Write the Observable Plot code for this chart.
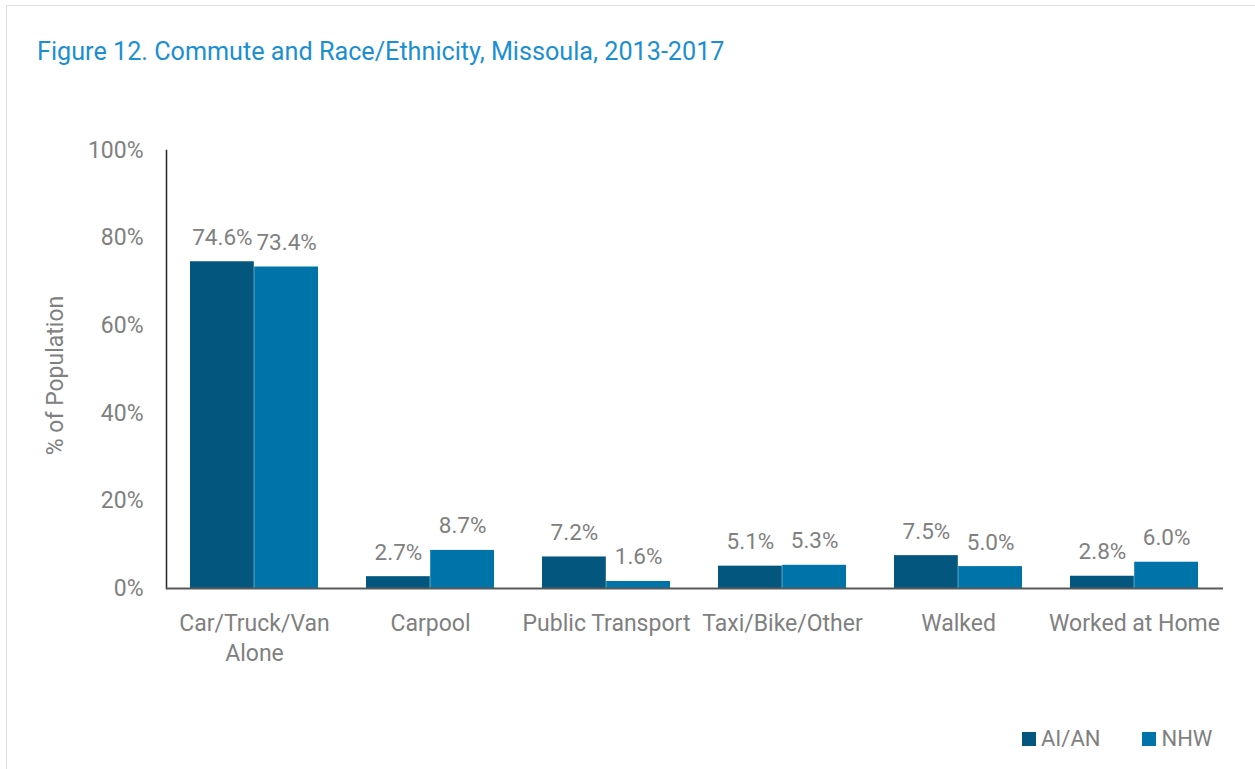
<!DOCTYPE html>
<html>
<head>
<meta charset="utf-8">
<script src="https://cdn.jsdelivr.net/npm/d3@7"></script>
<script src="https://cdn.jsdelivr.net/npm/@observablehq/plot@0.6"></script>
<style>
  html, body { margin: 0; padding: 0; background: #fff; }
  body { width: 1255px; height: 769px; position: relative; overflow: hidden;
         font-family: Roboto, "Liberation Sans", sans-serif; }
  #border { position: absolute; left: 6px; top: 5px; right: -2px; bottom: -2px;
            border-top: 1px solid #dddddd; border-left: 1px solid #dddddd; }
  #title { position: absolute; left: 37px; top: 36px; margin: 0; font-weight: normal;
           font-size: 25.2px; line-height: 32px; color: #1b8fd2; white-space: nowrap; }
  #chart { position: absolute; left: 0; top: 90px; }
  #legend { position: absolute; left: 1022px; top: 723px; display: flex; align-items: center;
            font-size: 22px; color: #808080; line-height: 32px; }
  .item { display: flex; align-items: center; margin-right: 42px; }
  .sw { width: 14px; height: 14px; margin-right: 5px; }
</style>
</head>
<body>
<div id="border"></div>
<h2 id="title">Figure 12. Commute and Race/Ethnicity, Missoula, 2013-2017</h2>
<div id="chart"></div>
<div id="legend"></div>
<script>
const categories = ["Car/Truck/Van\nAlone", "Carpool", "Public Transport", "Taxi/Bike/Other", "Walked", "Worked at Home"];
const series = ["AI/AN", "NHW"];
const aian = [0.746, 0.027, 0.072, 0.051, 0.075, 0.028];
const nhw  = [0.734, 0.087, 0.016, 0.053, 0.050, 0.060];
const yTicks = [0, 0.2, 0.4, 0.6, 0.8, 1.0];
const colors = ["#03577e", "#0074a9"];

const font = 'Roboto, "Liberation Sans", sans-serif';
const gray = "#808080";
const pct = d3.format(".1%");

const rowsA = categories.map((c, i) => ({category: c, series: series[0], value: aian[i]}));
const rowsN = categories.map((c, i) => ({category: c, series: series[1], value: nhw[i]}));

const half = 64.2;

const plot = Plot.plot({
  width: 1255,
  height: 600,
  marginTop: 60,
  marginBottom: 102,
  marginLeft: 166,
  marginRight: 32,
  style: {fontFamily: font, fontSize: "23px", color: gray, background: "transparent"},
  x: {domain: categories, paddingInner: 0.2727, paddingOuter: 0.1364},
  y: {domain: [0, 1]},
  marks: [
    Plot.barY(rowsA, {x: "category", y: "value", fill: colors[0], insetRight: half}),
    Plot.barY(rowsN, {x: "category", y: "value", fill: colors[1], insetLeft: half}),
    Plot.text(rowsA, {x: "category", y: "value", text: d => pct(d.value), dx: -half / 2, dy: -17,
      lineAnchor: "bottom", fill: gray, fontSize: 22.5}),
    Plot.text(rowsN, {x: "category", y: "value", text: d => pct(d.value), dx: half / 2, dy: -17,
      lineAnchor: "bottom", fill: gray, fontSize: 22.5}),
    Plot.axisY({ticks: yTicks, tickFormat: d3.format(".0%"), tickSize: 0, tickPadding: 23,
      fontSize: 23, fill: gray, label: null}),
    Plot.axisX({tickSize: 0, tickPadding: 21, fontSize: 23, fill: gray, lineHeight: 1.3, label: null}),
    Plot.frame({anchor: "left", stroke: "#222", strokeWidth: 1.5}),
    Plot.ruleY([0], {stroke: "#595959", strokeWidth: 2}),
    Plot.text(["% of Population"], {frameAnchor: "left", textAnchor: "middle", rotate: -90, dx: -111, dy: 6,
      fill: gray, fontSize: 23})
  ]
});
document.getElementById("chart").appendChild(plot);

const legend = document.getElementById("legend");
series.forEach((s, i) => {
  const item = document.createElement("div");
  item.className = "item";
  const sw = document.createElement("div");
  sw.className = "sw";
  sw.style.background = colors[i];
  const label = document.createElement("span");
  label.textContent = s;
  item.appendChild(sw);
  item.appendChild(label);
  legend.appendChild(item);
});
</script>
</body>
</html>
